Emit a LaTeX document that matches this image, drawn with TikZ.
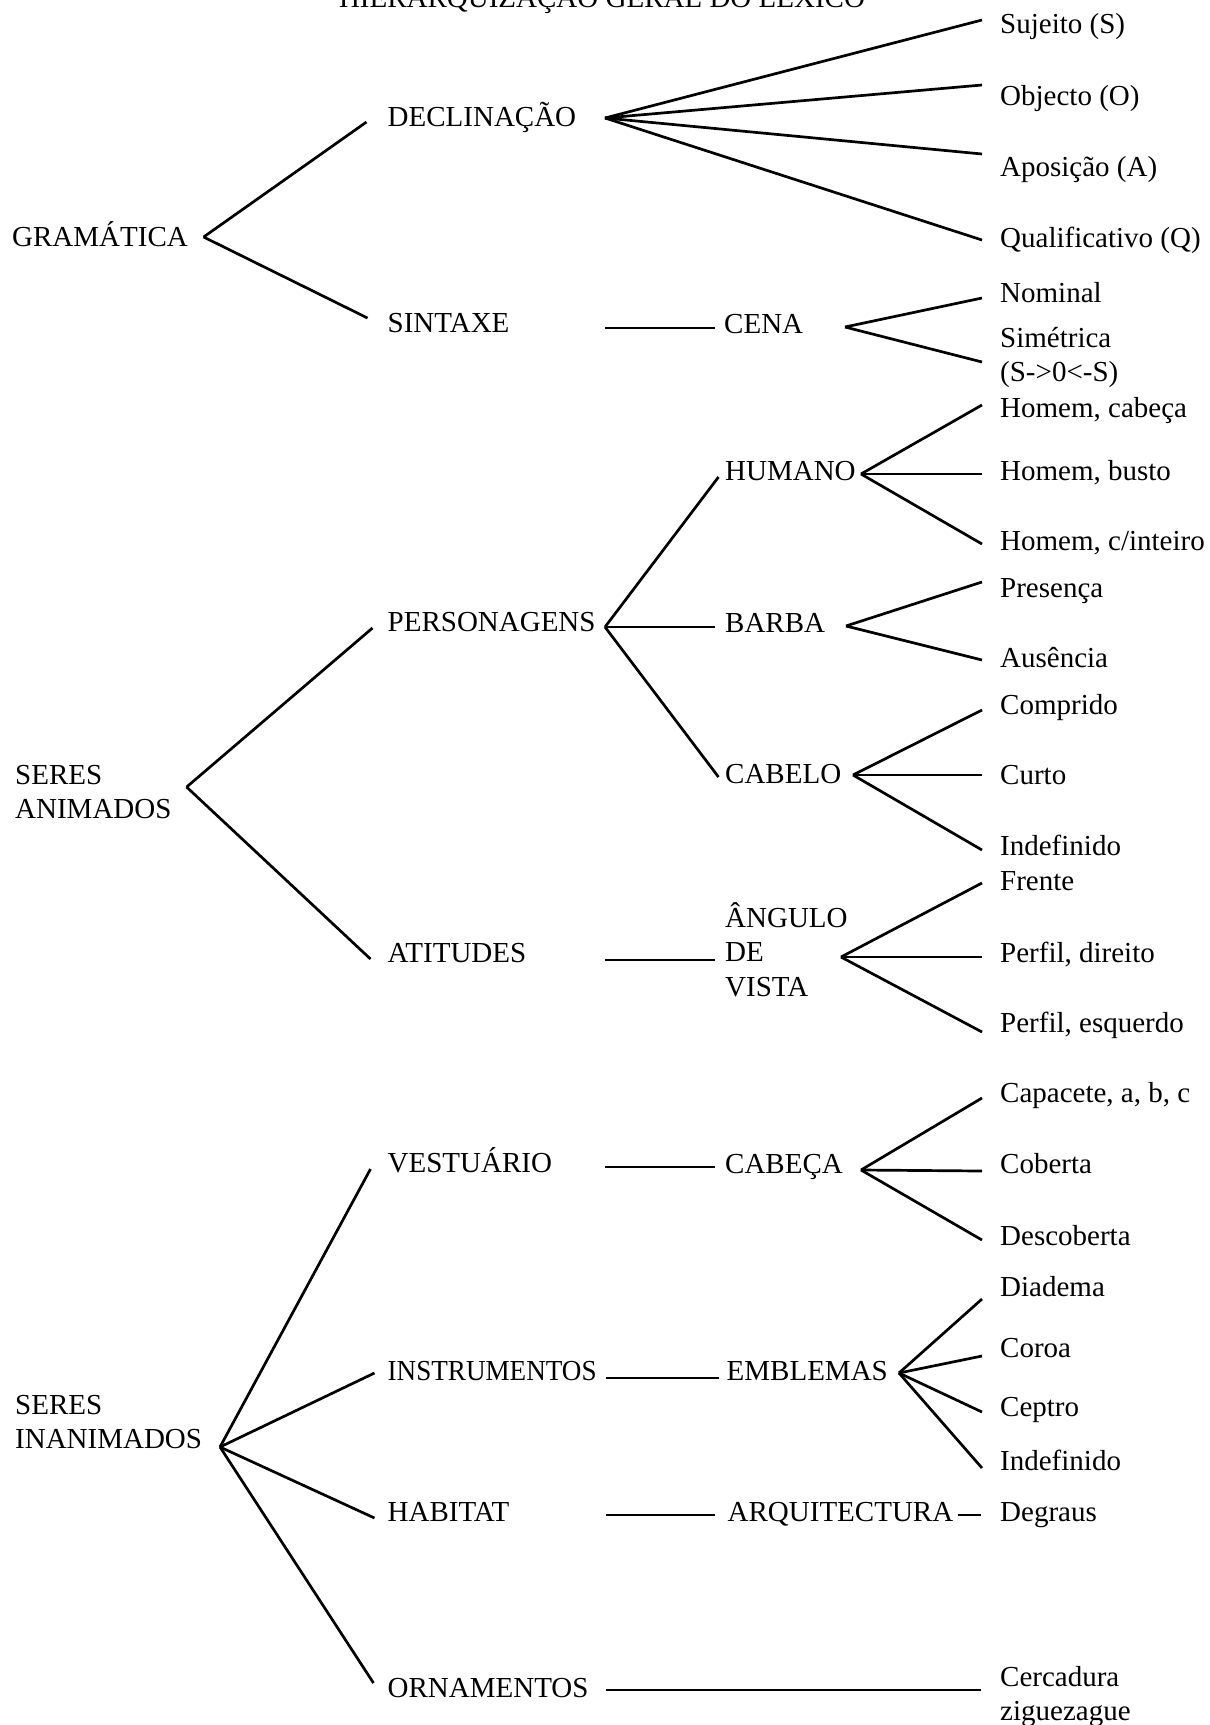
\documentclass[tikz,border=0pt]{standalone}
\usepackage{fontspec}
\setmainfont{Liberation Serif}
\begin{document}
\begin{tikzpicture}[x=1pt,y=-1pt,
  lbl/.style={anchor=base west, inner sep=0pt, font=\fontsize{29}{34.5}\selectfont},
  ln/.style={line width=2.7pt}]
\useasboundingbox (0,0) rectangle (1210,1725);
% title (cut by the top edge, as in the reference)
\node[lbl, anchor=base] (title) at (602,7) {HIERARQUIZAÇÃO GERAL DO LÉXICO};
% level 0
\node[lbl] (gram) at (12,246) {GRAMÁTICA};
\node[lbl] (seresA) at (15,784) {\begin{tabular}[t]{@{}l@{}}SERES\\ANIMADOS\end{tabular}};
\node[lbl] (seresI) at (15,1414) {\begin{tabular}[t]{@{}l@{}}SERES\\INANIMADOS\end{tabular}};
% level 1
\node[lbl] (decl) at (387.5,126) {DECLINAÇÃO};
\node[lbl] (sint) at (387.5,332) {SINTAXE};
\node[lbl] (pers) at (387.5,631) {PERSONAGENS};
\node[lbl] (atit) at (387.5,962) {ATITUDES};
\node[lbl] (vest) at (387.5,1172) {VESTUÁRIO};
\node[lbl] (instr) at (387.5,1380) {\scalebox{0.935}[1]{INSTRUMENTOS}};
\node[lbl] (habit) at (387.5,1521) {HABITAT};
\node[lbl] (orn) at (387.5,1697) {ORNAMENTOS};
% level 2
\node[lbl] (cena) at (724,333) {CENA};
\node[lbl] (humano) at (725,480) {HUMANO};
\node[lbl] (barba) at (725,632) {BARBA};
\node[lbl] (cabelo) at (725,783) {CABELO};
\node[lbl] (angulo) at (725,927) {\begin{tabular}[t]{@{}l@{}}ÂNGULO\\DE\\VISTA\end{tabular}};
\node[lbl] (cabeca) at (725,1173) {CABEÇA};
\node[lbl] (embl) at (726.5,1380) {EMBLEMAS};
\node[lbl] (arq) at (727.5,1521.7) {ARQUITECTURA};
% leaves
\node[lbl] (suj) at (1000,33) {Sujeito (S)};
\node[lbl] (obj) at (1000,105) {Objecto (O)};
\node[lbl] (apos) at (1000,176) {Aposição (A)};
\node[lbl] (qual) at (1000,247) {Qualificativo (Q)};
\node[lbl] (nom) at (1000,302) {Nominal};
\node[lbl] (sim) at (1000,347) {\begin{tabular}[t]{@{}l@{}}Simétrica\\(S->0<-S)\end{tabular}};
\node[lbl] (hcab) at (1000,417) {Homem, cabeça};
\node[lbl] (hbus) at (1000,480) {Homem, busto};
\node[lbl] (hint) at (1000,550) {Homem, c/inteiro};
\node[lbl] (pres) at (1000,597) {Presença};
\node[lbl] (aus) at (1000,667) {Ausência};
\node[lbl] (comp) at (1000,714) {Comprido};
\node[lbl] (curto) at (1000,784) {Curto};
\node[lbl] (indefA) at (1000,855) {Indefinido};
\node[lbl] (frente) at (1000,890) {Frente};
\node[lbl] (pdir) at (1000,962) {Perfil, direito};
\node[lbl] (pesq) at (1000,1032) {Perfil, esquerdo};
\node[lbl] (capa) at (1000,1102) {Capacete, a, b, c};
\node[lbl] (cob) at (1000,1173) {Coberta};
\node[lbl] (desc) at (1000,1245) {Descoberta};
\node[lbl] (diad) at (1000,1296) {Diadema};
\node[lbl] (coroa) at (1000,1357) {Coroa};
\node[lbl] (ceptro) at (1000,1416) {Ceptro};
\node[lbl] (indefB) at (1000,1470) {Indefinido};
\node[lbl] (degr) at (1000,1521.7) {Degraus};
\node[lbl] (cerc) at (1000,1686) {\begin{tabular}[t]{@{}l@{}}Cercadura\\ziguezague\end{tabular}};
% fan points
\coordinate (gF) at (203.6,237);
\coordinate (aF) at (186.6,787);
\coordinate (iF) at (220,1447);
\coordinate (declF) at (605,118);
\coordinate (persF) at (605,627);
\coordinate (cenaF) at (845,327);
\coordinate (humF) at (861,474);
\coordinate (barF) at (846,626);
\coordinate (cabF) at (853,775);
\coordinate (angF) at (841,957);
\coordinate (cbcF) at (861,1170);
\coordinate (embF) at (899,1373);
% level 0 -> level 1
\draw[ln] (gF) -- ([shift={(-21,-4)}]decl.base west);
\draw[ln] (gF) -- ([shift={(-20,-14)}]sint.base west);
\draw[ln] (aF) -- ([shift={(-15,-3)}]pers.base west);
\draw[ln] (aF) -- ([shift={(-17,-3)}]atit.base west);
\draw[ln] (iF) -- ([shift={(-17,-3)}]vest.base west);
\draw[ln] (iF) -- ([shift={(-13,-7)}]instr.base west);
\draw[ln] (iF) -- ([shift={(-13,-3)}]habit.base west);
\draw[ln] (iF) -- ([shift={(-14,-14)}]orn.base west);
% level 1 -> level 2 (horizontal)
\draw[ln] ([shift={(-119,-5)}]cena.base west) -- ([shift={(-9.5,-5)}]cena.base west);
\draw[ln] ([shift={(-120,33)}]angulo.base west) -- ([shift={(-10.5,33)}]angulo.base west);
\draw[ln] ([shift={(-120,-6)}]cabeca.base west) -- ([shift={(-10.5,-6)}]cabeca.base west);
\draw[ln] ([shift={(-120.5,-2)}]embl.base west) -- ([shift={(-8,-2)}]embl.base west);
\draw[ln] ([shift={(-121.5,-6.7)}]arq.base west) -- ([shift={(-13,-6.7)}]arq.base west);
\draw[ln] ([shift={(-394,4)}]cerc.base west) -- ([shift={(-19,4)}]cerc.base west);
\draw[ln] ([shift={(-42.5,-6.7)}]degr.base west) -- ([shift={(-19,-6.7)}]degr.base west);
% personagens fan
\draw[ln] (persF) -- ([shift={(-6.5,-3)}]humano.base west);
\draw[ln] (persF) -- ([shift={(-10.5,-5)}]barba.base west);
\draw[ln] (persF) -- ([shift={(-6.5,-6)}]cabelo.base west);
% leaves
\draw[ln] (declF) -- ([shift={(-18,-13)}]suj.base west);
\draw[ln] (declF) -- ([shift={(-18,-20)}]obj.base west);
\draw[ln] (declF) -- ([shift={(-18,-22)}]apos.base west);
\draw[ln] (declF) -- ([shift={(-18,-7)}]qual.base west);
\draw[ln] (cenaF) -- ([shift={(-18,-4)}]nom.base west);
\draw[ln] (cenaF) -- ([shift={(-18,15)}]sim.base west);
\draw[ln] (humF) -- ([shift={(-18,-12)}]hcab.base west);
\draw[ln] (humF) -- ([shift={(-18,-6)}]hbus.base west);
\draw[ln] (humF) -- ([shift={(-18,-6)}]hint.base west);
\draw[ln] (barF) -- ([shift={(-18,-15)}]pres.base west);
\draw[ln] (barF) -- ([shift={(-18,-7)}]aus.base west);
\draw[ln] (cabF) -- ([shift={(-18,-4)}]comp.base west);
\draw[ln] (cabF) -- ([shift={(-18,-9)}]curto.base west);
\draw[ln] (cabF) -- ([shift={(-18,-5)}]indefA.base west);
\draw[ln] (angF) -- ([shift={(-18,-7)}]frente.base west);
\draw[ln] (angF) -- ([shift={(-18,-5)}]pdir.base west);
\draw[ln] (angF) -- ([shift={(-18,0)}]pesq.base west);
\draw[ln] (cbcF) -- ([shift={(-18,-4)}]capa.base west);
\draw[ln] (cbcF) -- ([shift={(-18,-2)}]cob.base west);
\draw[ln] (cbcF) -- ([shift={(-18,-5)}]desc.base west);
\draw[ln] (embF) -- ([shift={(-18,3)}]diad.base west);
\draw[ln] (embF) -- ([shift={(-18,-1)}]coroa.base west);
\draw[ln] (embF) -- ([shift={(-18,-4)}]ceptro.base west);
\draw[ln] (embF) -- ([shift={(-18,-2)}]indefB.base west);
\end{tikzpicture}
\end{document}
